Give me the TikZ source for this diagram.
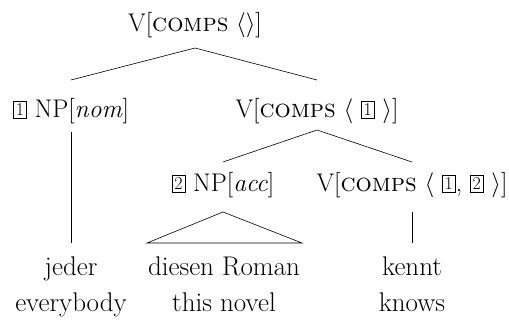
\documentclass[tikz,border=0pt]{standalone}
\usepackage{fontspec}
\tikzset{
  lab/.style={anchor=base,inner sep=0pt,font=\fontsize{25.5}{30}\selectfont},
  word/.style={anchor=base,inner sep=0pt,font=\fontsize{27}{32}\selectfont},
  branch/.style={line width=0.6pt,line join=miter}
}
\newcommand\bx[1]{\raisebox{2.5pt}{\setlength\fboxsep{2.2pt}\setlength\fboxrule{0.6pt}\fbox{\fontsize{18}{18}\selectfont #1}}}
\begin{document}
\begin{tikzpicture}[x=1pt,y=-1pt]
\useasboundingbox (0,0) rectangle (509,320);
\node[lab] (root) at (195,32) {V[\textsc{comps} $\langle\rangle$]};
\node[lab] (np1) at (71,118) {\bx{1} NP[\textit{nom}]};
\node[lab] (v1) at (317,118) {V[\textsc{comps} $\langle$ \bx{1} $\rangle$]};
\node[lab] (np2) at (223,192) {\bx{2} NP[\textit{acc}]};
\node[lab] (v12) at (412,192) {V[\textsc{comps} $\langle$ \bx{1}, \bx{2} $\rangle$]};
\node[word] (w1) at (71,276) {jeder};
\node[word] (w2) at (224,276) {diesen Roman};
\node[word] (w3) at (412,276) {kennt};
\node[word] (g1) at (71,312) {everybody};
\node[word] (g2) at (224,312) {this novel};
\node[word] (g3) at (412,312) {knows};
\draw[branch] ([yshift=38pt]np1.base) -- ([yshift=-16pt]root.base) -- ([yshift=38pt]v1.base);
\draw[branch] ([yshift=-14pt]np1.base) -- ([yshift=33pt]w1.base);
\draw[branch] ([yshift=30pt]np2.base) -- ([yshift=-12pt]v1.base) -- ([yshift=30pt]v12.base);
\draw[branch] ([yshift=-20pt]np2.base) -- ([xshift=-77pt,yshift=33pt]w2.base) -- ([xshift=78pt,yshift=33pt]w2.base) -- cycle;
\draw[branch] ([yshift=-20pt]v12.base) -- ([yshift=33pt]w3.base);
\end{tikzpicture}
\end{document}
